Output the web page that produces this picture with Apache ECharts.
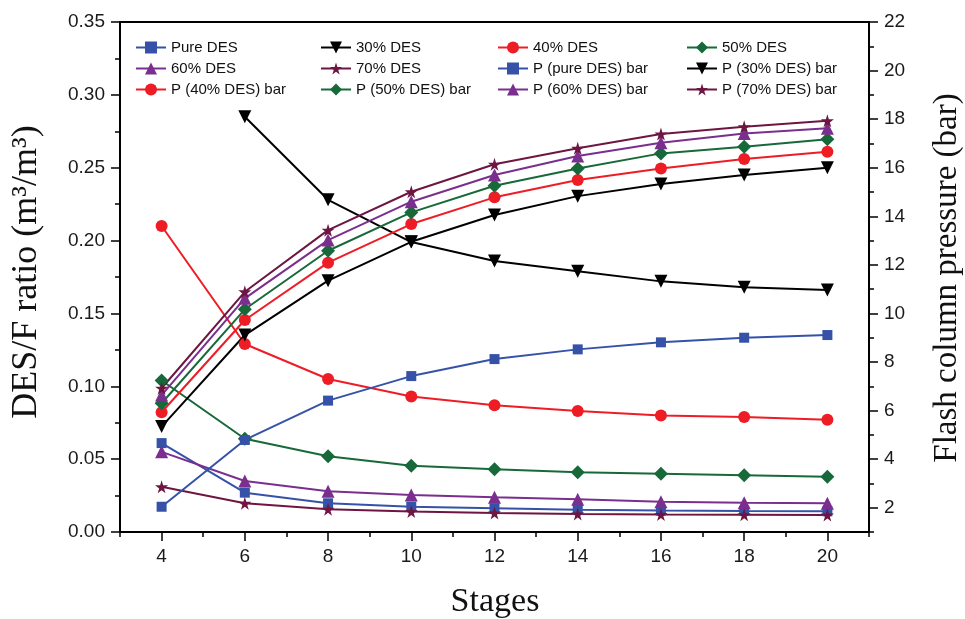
<!DOCTYPE html>
<html>
<head>
<meta charset="utf-8">
<script src="https://cdn.jsdelivr.net/npm/echarts@6/dist/echarts.min.js"></script>
<style>
  html, body { margin: 0; padding: 0; background: #fff; }
  #chart { width: 965px; height: 619px; }
</style>
</head>
<body>
<div id="chart"></div>
<script>
// ---- Data ----
const stages = [4, 6, 8, 10, 12, 14, 16, 18, 20];

// DES/F ratio (m3/m3) - left axis
const ratioPure = [0.061, 0.027, 0.0197, 0.0174, 0.0163, 0.0153, 0.0147, 0.0144, 0.0142];
const ratio30   = [null, 0.285, 0.228, 0.199, 0.186, 0.179, 0.172, 0.168, 0.166];
const ratio40   = [0.210, 0.129, 0.105, 0.093, 0.087, 0.083, 0.080, 0.079, 0.077];
const ratio50   = [0.104, 0.064, 0.052, 0.0455, 0.043, 0.041, 0.040, 0.039, 0.038];
const ratio60   = [0.055, 0.035, 0.028, 0.0254, 0.0238, 0.0224, 0.0208, 0.0201, 0.0197];
const ratio70   = [0.031, 0.0197, 0.0156, 0.014, 0.013, 0.0123, 0.012, 0.0118, 0.0116];

// Flash column pressure (bar) - right axis
const pPure = [2.04, 4.79, 6.41, 7.42, 8.12, 8.52, 8.81, 9.00, 9.11];
const p30   = [5.34, 9.11, 11.35, 12.95, 14.05, 14.83, 15.33, 15.70, 16.00];
const p40   = [5.93, 9.73, 12.09, 13.68, 14.78, 15.49, 15.97, 16.36, 16.66];
const p50   = [6.30, 10.17, 12.58, 14.16, 15.26, 15.97, 16.59, 16.86, 17.17];
const p60   = [6.64, 10.62, 13.02, 14.60, 15.70, 16.48, 17.03, 17.41, 17.62];
const p70   = [6.92, 10.89, 13.43, 15.01, 16.14, 16.80, 17.39, 17.69, 17.93];

// Axis ranges / ticks
const xMin = 3, xMax = 21;
const yLeftMin = 0, yLeftMax = 0.35, yLeftStep = 0.05;
const yRightMin = 1, yRightMax = 22;
const xTickCats = [];
for (let v = xMin; v <= xMax; v++) xTickCats.push(String(v));
const yRightTickCats = [];
for (let v = yRightMin; v <= yRightMax; v++) yRightTickCats.push(String(v));

// ---- Styles ----
const C = {
  blue: '#3552A8', black: '#000000', red: '#EE1C25',
  green: '#17693A', purple: '#7A2E8E', maroon: '#6E1541'
};
const SYM_DOWN = 'path://M0,0 L10,0 L5,9 Z';
const SYM_STAR = 'path://M50,0 L61,35 L98,35 L68,57 L79,91 L50,70 L21,91 L32,57 L2,35 L39,35 Z';

const defs = [
  { name: 'Pure DES', data: ratioPure, y: 0, color: C.blue, symbol: 'rect', size: 10 },
  { name: '30% DES', data: ratio30, y: 0, color: C.black, symbol: SYM_DOWN, size: 13 },
  { name: '40% DES', data: ratio40, y: 0, color: C.red, symbol: 'circle', size: 12 },
  { name: '50% DES', data: ratio50, y: 0, color: C.green, symbol: 'diamond', size: 14 },
  { name: '60% DES', data: ratio60, y: 0, color: C.purple, symbol: 'triangle', size: 13 },
  { name: '70% DES', data: ratio70, y: 0, color: C.maroon, symbol: SYM_STAR, size: 13 },
  { name: 'P (pure DES) bar', data: pPure, y: 1, color: C.blue, symbol: 'rect', size: 10 },
  { name: 'P (30% DES) bar', data: p30, y: 1, color: C.black, symbol: SYM_DOWN, size: 13 },
  { name: 'P (40% DES) bar', data: p40, y: 1, color: C.red, symbol: 'circle', size: 12 },
  { name: 'P (50% DES) bar', data: p50, y: 1, color: C.green, symbol: 'diamond', size: 14 },
  { name: 'P (60% DES) bar', data: p60, y: 1, color: C.purple, symbol: 'triangle', size: 13 },
  { name: 'P (70% DES) bar', data: p70, y: 1, color: C.maroon, symbol: SYM_STAR, size: 13 }
];

const series = defs.map(d => ({
  name: d.name,
  type: 'line',
  xAxisIndex: 0,
  yAxisIndex: d.y,
  data: stages.map((s, i) => [s, d.data[i]]),
  symbol: d.symbol,
  symbolSize: d.size,
  showSymbol: true,
  connectNulls: false,
  clip: false,
  lineStyle: { color: d.color, width: 2 },
  itemStyle: { color: d.color },
  emphasis: { disabled: true }
}));

const legendCols = [
  ['Pure DES', '60% DES', 'P (40% DES) bar'],
  ['30% DES', '70% DES', 'P (50% DES) bar'],
  ['40% DES', 'P (pure DES) bar', 'P (60% DES) bar'],
  ['50% DES', 'P (30% DES) bar', 'P (70% DES) bar']
];
const legendLeft = [130, 315, 492, 681];
const legends = legendCols.map((names, i) => ({
  data: names,
  orient: 'vertical',
  left: legendLeft[i],
  top: 35,
  itemWidth: 30,
  itemHeight: 15,
  itemGap: 6,
  selectedMode: false,
  textStyle: { fontFamily: 'Liberation Sans', fontSize: 15, color: '#111', lineHeight: 15 }
}));

const tickFont = { fontFamily: 'Liberation Sans', fontSize: 19, color: '#1a1a1a' };
const axisLine = { show: true, lineStyle: { color: '#000', width: 2 } };

const option = {
  animation: false,
  backgroundColor: '#fff',
  grid: {
    left: 120, right: 96, top: 22, bottom: 87,
    show: true, borderColor: '#000', borderWidth: 2, backgroundColor: 'transparent'
  },
  legend: legends,
  xAxis: [
    {
      type: 'value', min: xMin, max: xMax, interval: 1, position: 'bottom',
      axisLine: axisLine,
      axisTick: { show: true, length: 5, lineStyle: { color: '#000', width: 1.5 } },
      axisLabel: Object.assign({ margin: 15, formatter: v => (v % 2 === 0 ? String(v) : '') }, tickFont),
      splitLine: { show: false }
    },
    {
      type: 'category', data: xTickCats, boundaryGap: false, position: 'bottom',
      axisLine: { show: false },
      axisTick: { show: true, length: 9, interval: (idx, val) => Number(val) % 2 === 0,
                  lineStyle: { color: '#000', width: 1.5 } },
      axisLabel: { show: false },
      splitLine: { show: false }
    }
  ],
  yAxis: [
    {
      type: 'value', min: yLeftMin, max: yLeftMax, interval: yLeftStep, position: 'left',
      axisLine: axisLine,
      axisTick: { show: true, length: 9, lineStyle: { color: '#000', width: 1.5 } },
      minorTick: { show: true, splitNumber: 2, length: 5, lineStyle: { color: '#000', width: 1.5 } },
      axisLabel: Object.assign({ margin: 15, formatter: v => v.toFixed(2) }, tickFont),
      splitLine: { show: false }, minorSplitLine: { show: false }
    },
    {
      type: 'value', min: yRightMin, max: yRightMax, interval: 1, position: 'right',
      axisLine: axisLine,
      axisTick: { show: true, length: 5, lineStyle: { color: '#000', width: 1.5 } },
      axisLabel: Object.assign({ margin: 15, formatter: v => (v % 2 === 0 ? String(v) : '') }, tickFont),
      splitLine: { show: false }
    },
    {
      type: 'category', data: yRightTickCats, boundaryGap: false, position: 'right',
      axisLine: { show: false },
      axisTick: { show: true, length: 9, interval: (idx, val) => Number(val) % 2 === 0,
                  lineStyle: { color: '#000', width: 1.5 } },
      axisLabel: { show: false },
      splitLine: { show: false }
    }
  ],
  graphic: [
    {
      type: 'text', x: 27, y: 272, rotation: Math.PI / 2,
      style: { text: 'DES/F ratio (m\u00B3/m\u00B3)', fontFamily: 'Liberation Serif', fontSize: 36,
               fill: '#111', align: 'center', verticalAlign: 'middle' }
    },
    {
      type: 'text', x: 947, y: 278, rotation: Math.PI / 2,
      style: { text: 'Flash column pressure (bar)', fontFamily: 'Liberation Serif', fontSize: 33,
               fill: '#111', align: 'center', verticalAlign: 'middle' }
    },
    {
      type: 'text', x: 495, y: 602,
      style: { text: 'Stages', fontFamily: 'Liberation Serif', fontSize: 34,
               fill: '#111', align: 'center', verticalAlign: 'middle' }
    }
  ],
  series: series
};

const chart = echarts.init(document.getElementById('chart'), null, { renderer: 'canvas' });
chart.setOption(option);
</script>
</body>
</html>
